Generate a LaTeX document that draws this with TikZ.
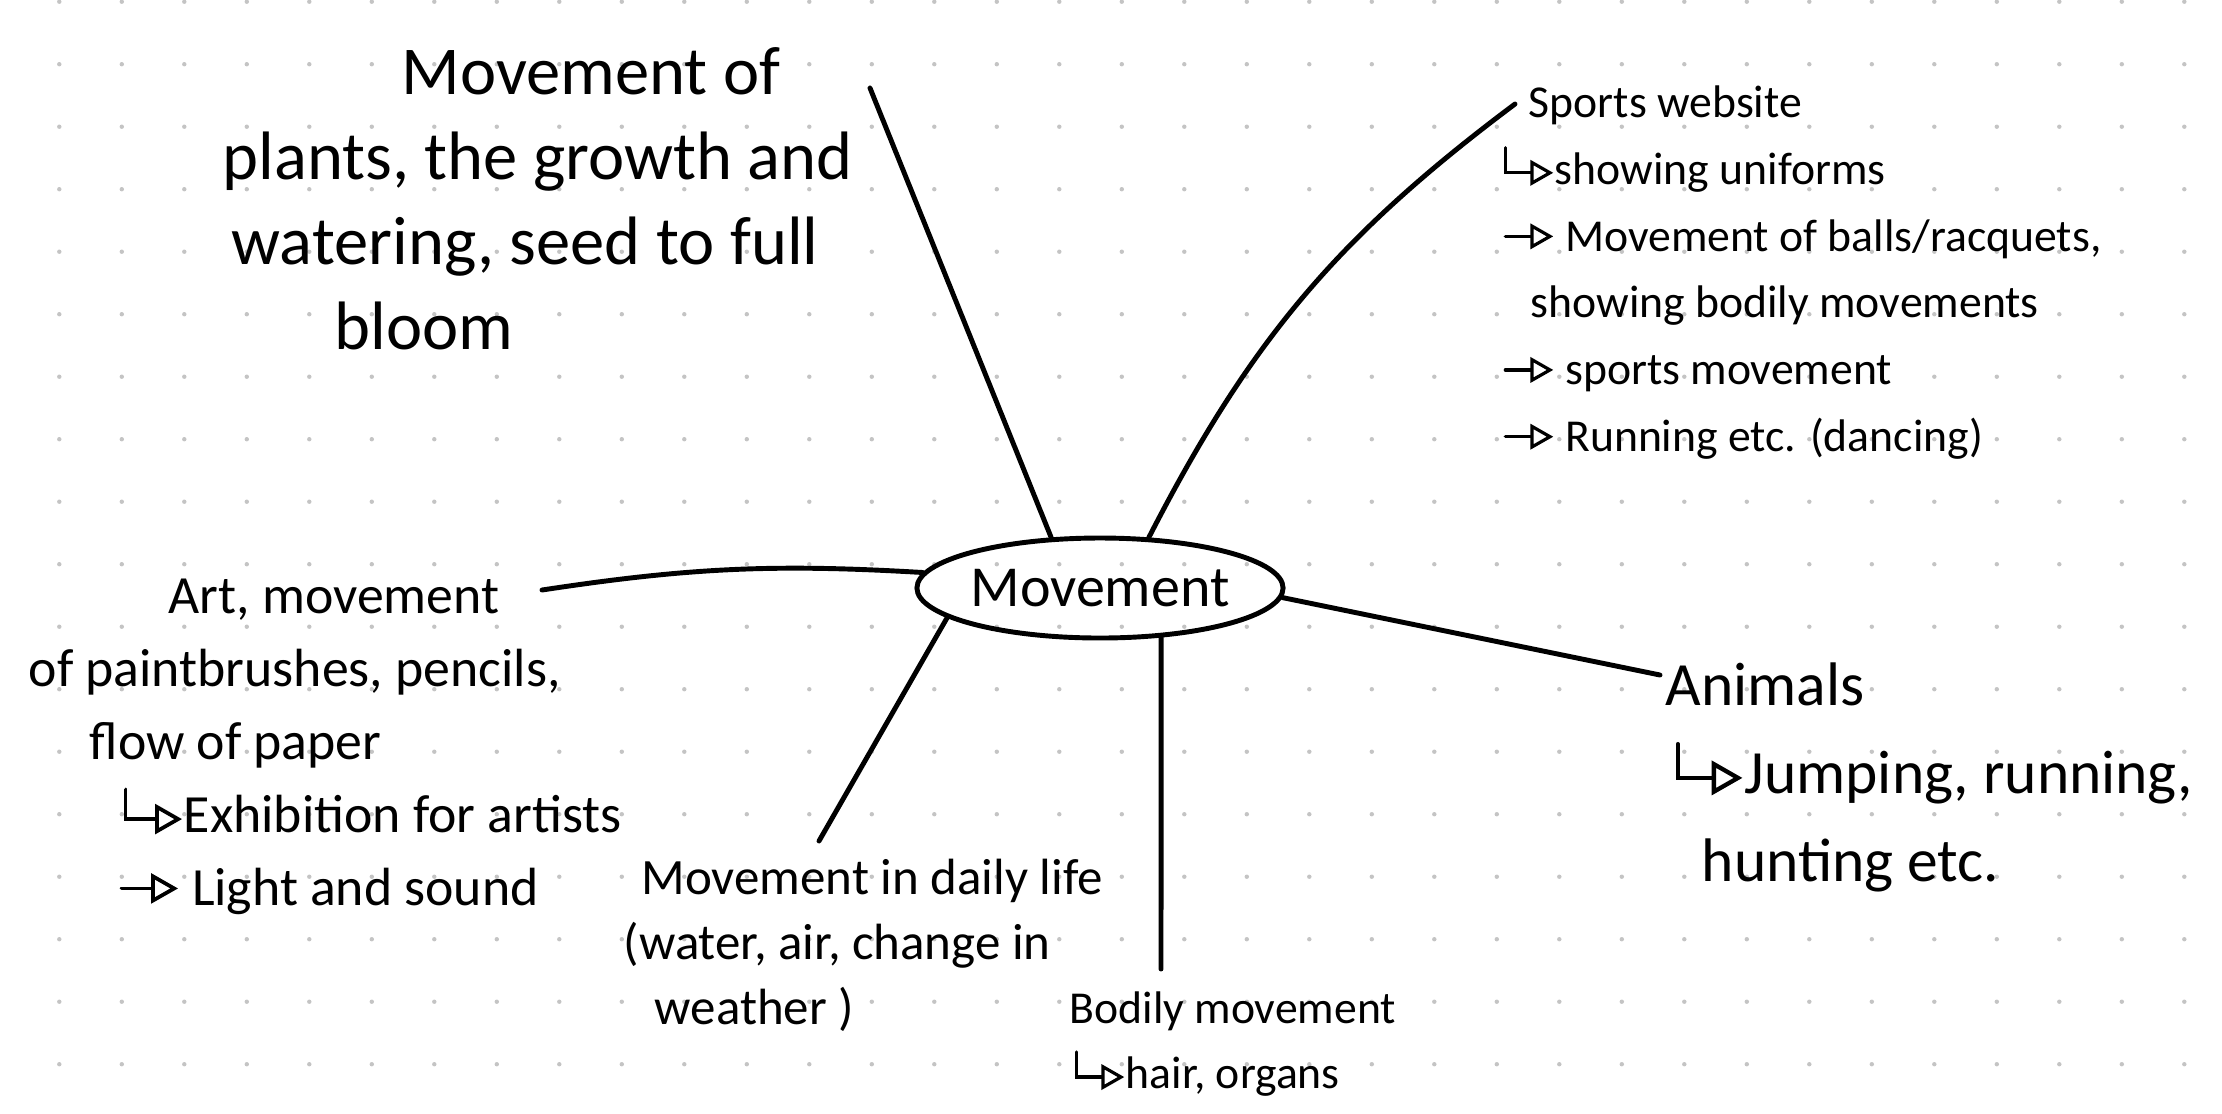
\documentclass[tikz,border=0pt]{standalone}
\usepackage{fontspec}
\setmainfont{Carlito}
\usepackage{tikz}
\usetikzlibrary{shapes.geometric, arrows.meta, positioning}
\usepackage{xcolor}
\definecolor{dotgray}{RGB}{196, 196, 196}
\tikzstyle{topic} = [ellipse, draw=black, line width=1.4pt, minimum width=3.64cm, minimum height=1.0cm, inner sep=0pt, font=\fontsize{16.5}{20}\selectfont]
\tikzstyle{note} = [anchor=north west, inner sep=0pt, align=left, text=black]
\tikzstyle{link} = [line width=1.4pt, line cap=round, line join=round]
\newcommand{\hookarr}{\tikz[baseline=0pt]\draw[line width=0.07em, line cap=round, -{Triangle[open, length=0.5em, width=0.55em]}] (0pt,0.8em) -- (0pt,0.25em) -- (1.05em,0.25em);}
\newcommand{\fwdarr}{\tikz[baseline=0pt]\draw[line width=0.07em, line cap=round, -{Triangle[open, length=0.5em, width=0.55em]}] (0pt,0.32em) -- (1.05em,0.32em);}

\begin{document}
\begin{tikzpicture}
    % Page and dot grid
    \fill [white] (0,0) rectangle (22.22,-11.13);
    \useasboundingbox (0,0) rectangle (22.22,-11.13);
    \foreach \i in {0,...,34}
        \foreach \j in {0,...,17}
            \fill [dotgray] (0.593+0.625*\i, -0.017-0.625*\j) circle (0.022);

    % Nodes
    \node (move) [topic] at (11.00,-5.88) {Movement};
    \node (plants) [note, font=\fontsize{19.5}{24.2}\selectfont] at (2.22,-0.47)
        {\hspace*{1.79cm}Movement of\\plants, the growth and\\\hspace*{0.09cm}watering, seed to full\\\hspace*{1.12cm}bloom};
    \node (sports) [note, font=\fontsize{13}{19}\selectfont] at (15.03,-0.85)
        {\hspace*{0.25cm}Sports website\\\hookarr showing uniforms\\\fwdarr\ Movement of balls/racquets,\\\hspace*{0.27cm}showing bodily movements\\\fwdarr\ sports movement\\\fwdarr\ Running etc. (dancing)};
    \node (art) [note, font=\fontsize{15.3}{20.8}\selectfont] at (0.28,-5.78)
        {\hspace*{1.40cm}Art, movement\\of paintbrushes, pencils,\\\hspace*{0.61cm}flow of paper\\\hspace*{0.95cm}\hookarr Exhibition for artists\\\hspace*{0.91cm}\fwdarr\ Light and sound};
    \node (animals) [note, font=\fontsize{17.5}{25}\selectfont] at (16.65,-6.62)
        {Animals\\\hspace*{0.10cm}\hookarr Jumping, running,\\\hspace*{0.36cm}hunting etc.};
    \node (daily) [note, font=\fontsize{14.5}{18.5}\selectfont] at (6.23,-8.58)
        {\hspace*{0.18cm}Movement in daily life\\(water, air, change in\\\hspace*{0.31cm}weather )};
    \node (bodily) [note, font=\fontsize{13}{18.5}\selectfont] at (10.69,-9.91)
        {Bodily movement\\\hspace*{0.05cm}\hookarr hair, organs};

    % Free ends of the branches
    \coordinate (plantsend) at (8.70,-0.88);
    \coordinate (sportsend) at (15.15,-1.04);
    \coordinate (artend) at (5.42,-5.90);
    \coordinate (animalsend) at (16.60,-6.75);
    \coordinate (dailyend) at (8.19,-8.41);
    \coordinate (bodilyend) at (11.61,-9.69);

    % Branches
    \draw [link] (move.134) -- (plantsend);
    \draw [link] (move.46) to[bend left=13] (sportsend);
    \draw [link] (move.175) to[bend right=6] (artend);
    \draw [link] (move.357) -- (animalsend);
    \draw [link] (move.191) -- (dailyend);
    \draw [link] (move.321) -- (bodilyend);
\end{tikzpicture}
\end{document}
